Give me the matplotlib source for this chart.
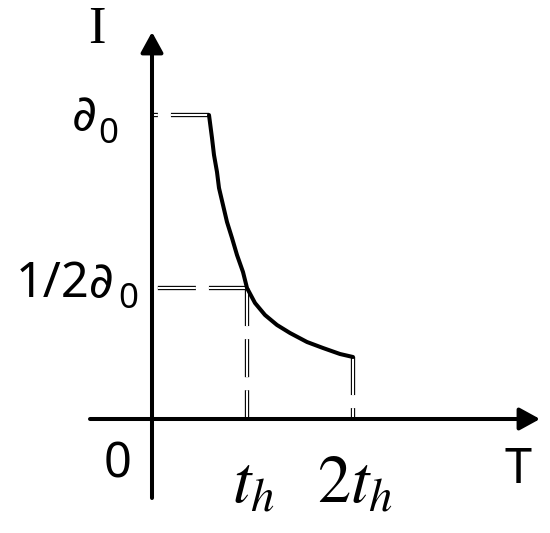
import matplotlib
matplotlib.use("Agg")
import matplotlib.pyplot as plt

plt.rcParams['lines.scale_dashes'] = False
plt.rcParams['mathtext.fontset'] = 'stix'

# curve values (units: pixels from the origin)
t_curve = [57, 60, 62, 65, 67, 71, 75, 80, 85, 91, 95,
           103, 113, 125, 138, 155, 171, 188, 201]
i_curve = [304, 281, 264, 247, 231, 214, 197, 181, 164, 147, 131,
           116, 104, 94, 86, 77, 71, 65, 62]

t_h = 95        # position of t_h
t_2h = 201      # position of 2t_h
i_0 = 304       # level of the flat top
i_half = 131    # level of 1/2 of the top

fig = plt.figure(figsize=(5.5, 5.33), dpi=100)
ax = fig.add_axes([0, 0, 1, 1])
ax.set_xlim(-152, 398)
ax.set_ylim(-114, 419)
ax.axis('off')


def double_dash(xs, ys):
    # hollow dashed line: thick black with thin white inside
    ax.plot(xs, ys, color='black', lw=3.1, dashes=(27.4, 9.4),
            dash_capstyle='butt', zorder=2)
    ax.plot(xs, ys, color='white', lw=1.5, dashes=(27.4, 9.4),
            dash_capstyle='butt', zorder=3)


# guide lines, drawn from the curve toward the axes
double_dash([t_curve[0], 0], [i_0, i_0])
double_dash([t_h, 0], [i_half, i_half])
double_dash([t_h, t_h], [i_half, 0])
double_dash([t_2h, t_2h], [i_curve[-1], 0])

# the curve
ax.plot(t_curve, i_curve, color='black', lw=2.9, solid_joinstyle='round',
        solid_capstyle='round', zorder=4)

# axes with arrows
arrow = dict(arrowstyle='-|>,head_length=0.62,head_width=0.34', lw=2.9,
             color='black', mutation_scale=20, shrinkA=0, shrinkB=0)
ax.annotate('', xy=(0, 387), xytext=(0, -79), arrowprops=arrow, zorder=5)
ax.annotate('', xy=(388, 0), xytext=(-62, 0), arrowprops=arrow, zorder=5)

sans = ['Noto Sans', 'DejaVu Sans']

ax.text(-55, 389, 'I', fontsize=38, family='Liberation Serif',
        ha='center', va='center')
ax.text(-55, 289, '∂', fontsize=35, family=sans, ha='right', va='baseline')
ax.text(-54, 276, '0', fontsize=25, family=sans, ha='left', va='baseline')
ax.text(-37, 122, '1/2∂', fontsize=35, family=sans, ha='right', va='baseline')
ax.text(-34, 111, '0', fontsize=25, family=sans, ha='left', va='baseline')
ax.text(-34, -58, '0', fontsize=35, family=sans, ha='center', va='baseline')
ax.text(366, -64, 'T', fontsize=35, family=sans, ha='center', va='baseline')
ax.text(80, -84, r'$t_h$', fontsize=48, ha='left', va='baseline')
ax.text(165, -84, r'$2t_h$', fontsize=48, ha='left', va='baseline')

fig.savefig('out.png', dpi=100, facecolor='white')
